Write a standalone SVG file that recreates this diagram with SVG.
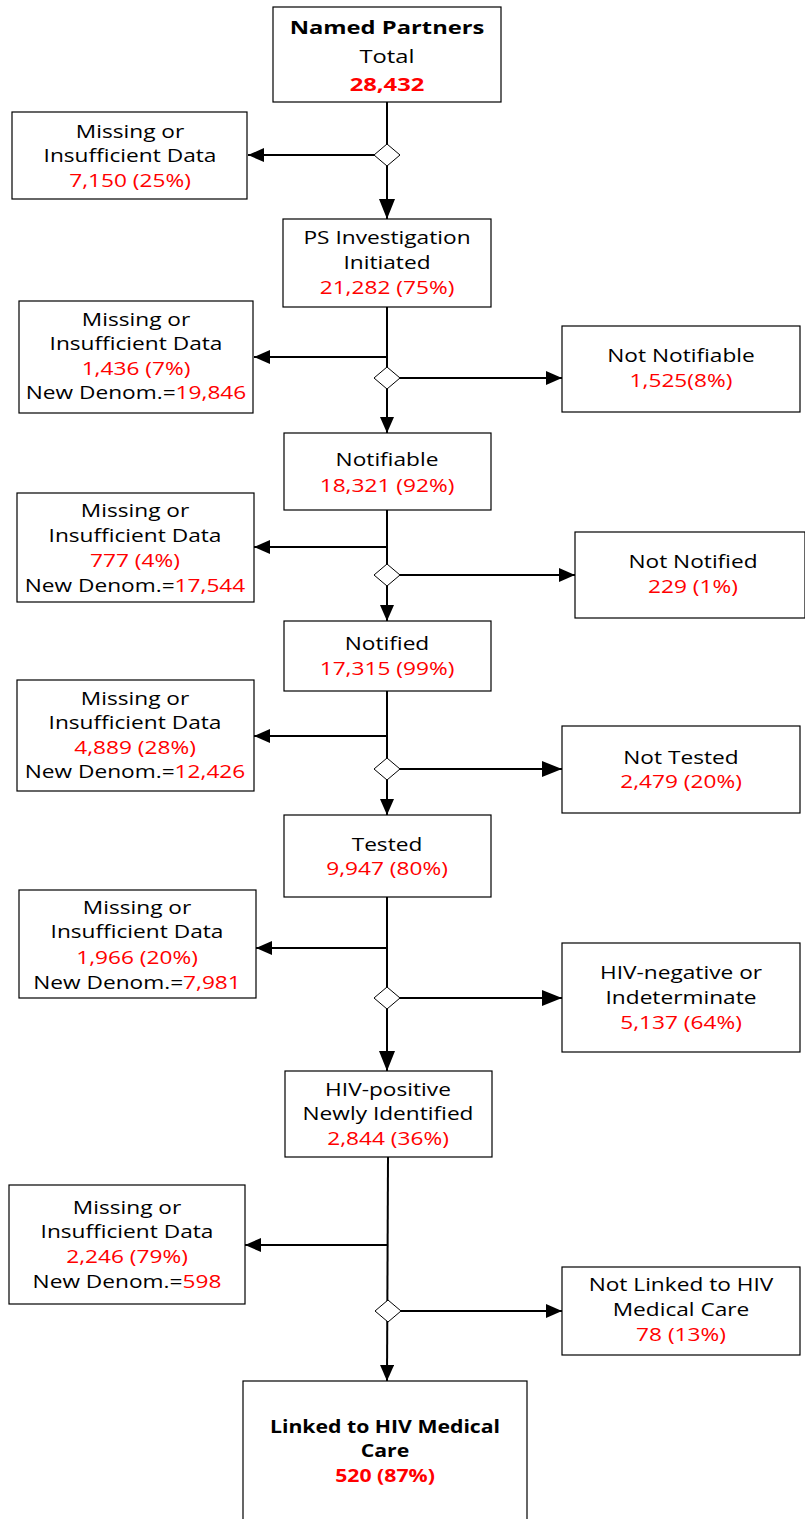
<svg xmlns="http://www.w3.org/2000/svg" width="805" height="1519" viewBox="0 0 805 1519">
<defs>
<style>
.box{fill:#fff;stroke:#000;stroke-width:1.2}
.t{font-family:"Open Sans","Liberation Sans",sans-serif;font-size:18px;fill:#000;text-anchor:middle}
.b{font-weight:bold}
.r{fill:#ff0000}
.c{stroke:#000;stroke-width:2;fill:none}
.d{fill:#fff;stroke:#000;stroke-width:1}
</style>
<marker id="ah" markerUnits="userSpaceOnUse" markerWidth="20" markerHeight="20" viewBox="0 0 20 20" refX="20" refY="10" orient="auto">
<path d="M0,2 L20,10 L0,18 Z" fill="#000"/>
</marker>
<marker id="as" markerUnits="userSpaceOnUse" markerWidth="16" markerHeight="14" viewBox="0 0 16 14" refX="16" refY="7" orient="auto">
<path d="M0,0 L16,7 L0,14 Z" fill="#000"/>
</marker>
</defs>
<g id="connectors">
<line class="c" x1="387" y1="102" x2="387" y2="219" marker-end="url(#ah)"/>
<line class="c" x1="387" y1="155" x2="248" y2="155" marker-end="url(#as)"/>
<line class="c" x1="387" y1="307" x2="387" y2="433" marker-end="url(#as)"/>
<line class="c" x1="387" y1="357" x2="254" y2="357" marker-end="url(#as)"/>
<line class="c" x1="387" y1="378" x2="562" y2="378" marker-end="url(#as)"/>
<line class="c" x1="387" y1="510" x2="387" y2="621" marker-end="url(#as)"/>
<line class="c" x1="387" y1="547" x2="254" y2="547" marker-end="url(#as)"/>
<line class="c" x1="387" y1="575" x2="575" y2="575" marker-end="url(#as)"/>
<line class="c" x1="387" y1="691" x2="387" y2="815" marker-end="url(#as)"/>
<line class="c" x1="387" y1="736" x2="254" y2="736" marker-end="url(#as)"/>
<line class="c" x1="387" y1="769" x2="562" y2="769" marker-end="url(#ah)"/>
<line class="c" x1="387" y1="897" x2="387" y2="1071" marker-end="url(#ah)"/>
<line class="c" x1="387" y1="948" x2="256" y2="948" marker-end="url(#as)"/>
<line class="c" x1="387" y1="998" x2="562" y2="998" marker-end="url(#ah)"/>
<line class="c" x1="388" y1="1157" x2="387" y2="1381" marker-end="url(#as)"/>
<line class="c" x1="388" y1="1245" x2="245" y2="1245" marker-end="url(#as)"/>
<line class="c" x1="388" y1="1311" x2="562" y2="1311" marker-end="url(#as)"/>
<polygon class="d" points="387,144 400,155 387,166 374,155"/>
<polygon class="d" points="387,367 400,378 387,389 374,378"/>
<polygon class="d" points="387,564 400,575 387,586 374,575"/>
<polygon class="d" points="387,758 400,769 387,780 374,769"/>
<polygon class="d" points="387,987 400,998 387,1009 374,998"/>
<polygon class="d" points="388,1300 401,1311 388,1322 375,1311"/>
</g>
<g id="n1">
<rect class="box" x="273" y="7" width="228" height="95"/>
<g transform="translate(387 0) scale(1.32 1)">
<text class="t b" x="0" y="34" font-size="20">Named Partners</text>
<text class="t" x="0" y="63" font-size="22">Total</text>
<text class="t b r" x="0" y="91" font-size="22">28,432</text>
</g>
</g>
<g id="m1">
<rect class="box" x="12" y="112" width="235" height="87"/>
<g transform="translate(130 0) scale(1.26 1)">
<text class="t" x="0" y="138">Missing or</text>
<text class="t" x="0" y="162">Insufficient Data</text>
<text class="t r" x="0" y="187">7,150 (25%)</text>
</g>
</g>
<g id="n2">
<rect class="box" x="283" y="219" width="208" height="88"/>
<g transform="translate(387 0) scale(1.26 1)">
<text class="t" x="0" y="244">PS Investigation</text>
<text class="t" x="0" y="269">Initiated</text>
<text class="t r" x="0" y="294">21,282 (75%)</text>
</g>
</g>
<g id="m2">
<rect class="box" x="19" y="301" width="234" height="112"/>
<g transform="translate(136 0) scale(1.26 1)">
<text class="t" x="0" y="326">Missing or</text>
<text class="t" x="0" y="350">Insufficient Data</text>
<text class="t r" x="0" y="375">1,436 (7%)</text>
<text class="t" x="0" y="399">New Denom.=<tspan class="r">19,846</tspan></text>
</g>
</g>
<g id="x2">
<rect class="box" x="562" y="326" width="238" height="86"/>
<g transform="translate(681 0) scale(1.26 1)">
<text class="t" x="0" y="362">Not Notifiable</text>
<text class="t r" x="0" y="387">1,525(8%)</text>
</g>
</g>
<g id="n3">
<rect class="box" x="284" y="433" width="207" height="77"/>
<g transform="translate(387 0) scale(1.26 1)">
<text class="t" x="0" y="466">Notifiable</text>
<text class="t r" x="0" y="492">18,321 (92%)</text>
</g>
</g>
<g id="m3">
<rect class="box" x="17" y="493" width="237" height="109"/>
<g transform="translate(135 0) scale(1.26 1)">
<text class="t" x="0" y="517">Missing or</text>
<text class="t" x="0" y="542">Insufficient Data</text>
<text class="t r" x="0" y="567">777 (4%)</text>
<text class="t" x="0" y="592">New Denom.=<tspan class="r">17,544</tspan></text>
</g>
</g>
<g id="x3">
<rect class="box" x="575" y="532" width="230" height="86"/>
<g transform="translate(693 0) scale(1.26 1)">
<text class="t" x="0" y="568">Not Notified</text>
<text class="t r" x="0" y="593">229 (1%)</text>
</g>
</g>
<g id="n4">
<rect class="box" x="284" y="621" width="207" height="70"/>
<g transform="translate(387 0) scale(1.26 1)">
<text class="t" x="0" y="650">Notified</text>
<text class="t r" x="0" y="675">17,315 (99%)</text>
</g>
</g>
<g id="m4">
<rect class="box" x="17" y="680" width="237" height="111"/>
<g transform="translate(135 0) scale(1.26 1)">
<text class="t" x="0" y="705">Missing or</text>
<text class="t" x="0" y="729">Insufficient Data</text>
<text class="t r" x="0" y="754">4,889 (28%)</text>
<text class="t" x="0" y="778">New Denom.=<tspan class="r">12,426</tspan></text>
</g>
</g>
<g id="x4">
<rect class="box" x="562" y="726" width="238" height="87"/>
<g transform="translate(681 0) scale(1.26 1)">
<text class="t" x="0" y="764">Not Tested</text>
<text class="t r" x="0" y="788">2,479 (20%)</text>
</g>
</g>
<g id="n5">
<rect class="box" x="284" y="815" width="207" height="82"/>
<g transform="translate(387 0) scale(1.26 1)">
<text class="t" x="0" y="851">Tested</text>
<text class="t r" x="0" y="875">9,947 (80%)</text>
</g>
</g>
<g id="m5">
<rect class="box" x="19" y="890" width="237" height="108"/>
<g transform="translate(137 0) scale(1.26 1)">
<text class="t" x="0" y="914">Missing or</text>
<text class="t" x="0" y="938">Insufficient Data</text>
<text class="t r" x="0" y="964">1,966 (20%)</text>
<text class="t" x="0" y="989">New Denom.=<tspan class="r">7,981</tspan></text>
</g>
</g>
<g id="x5">
<rect class="box" x="562" y="943" width="238" height="109"/>
<g transform="translate(681 0) scale(1.26 1)">
<text class="t" x="0" y="979">HIV-negative or</text>
<text class="t" x="0" y="1004">Indeterminate</text>
<text class="t r" x="0" y="1029">5,137 (64%)</text>
</g>
</g>
<g id="n6">
<rect class="box" x="285" y="1071" width="207" height="86"/>
<g transform="translate(388 0) scale(1.26 1)">
<text class="t" x="0" y="1096">HIV-positive</text>
<text class="t" x="0" y="1120">Newly Identified</text>
<text class="t r" x="0" y="1145">2,844 (36%)</text>
</g>
</g>
<g id="m6">
<rect class="box" x="9" y="1185" width="236" height="119"/>
<g transform="translate(127 0) scale(1.26 1)">
<text class="t" x="0" y="1214">Missing or</text>
<text class="t" x="0" y="1238">Insufficient Data</text>
<text class="t r" x="0" y="1263">2,246 (79%)</text>
<text class="t" x="0" y="1288">New Denom.=<tspan class="r">598</tspan></text>
</g>
</g>
<g id="x6">
<rect class="box" x="562" y="1267" width="238" height="88"/>
<g transform="translate(681 0) scale(1.26 1)">
<text class="t" x="0" y="1291">Not Linked to HIV</text>
<text class="t" x="0" y="1316">Medical Care</text>
<text class="t r" x="0" y="1341">78 (13%)</text>
</g>
</g>
<g id="n7">
<rect class="box" x="243" y="1381" width="284" height="145"/>
<g transform="translate(385 0) scale(1.18 1)">
<text class="t b" x="0" y="1433" font-size="18.5">Linked to HIV Medical</text>
<text class="t b" x="0" y="1457" font-size="18.5">Care</text>
<text class="t b r" x="0" y="1482" font-size="18.5">520 (87%)</text>
</g>
</g>
</svg>
